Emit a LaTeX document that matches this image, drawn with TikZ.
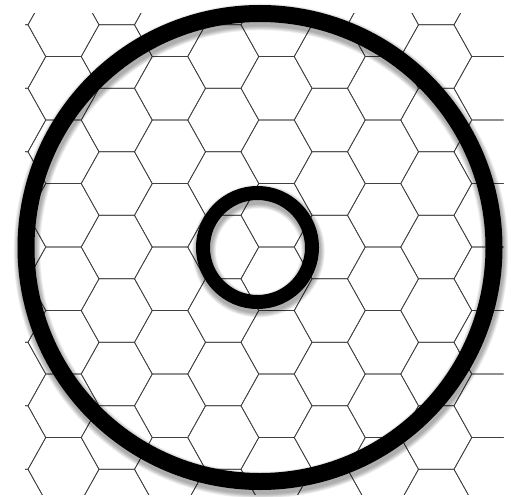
\documentclass[tikz,border=0pt]{standalone}
\begin{document}
\begin{tikzpicture}[x=1pt,y=-1pt,
  hexline/.style={draw=black!75,line width=0.7pt,line join=miter},
  ring/.style={draw=black},
  ringshadow/.style={draw=black,opacity=0.05}]
\useasboundingbox[fill=white] (0,0) rectangle (511,497);
% hexagon grid
\begin{scope}
\clip (25,14) rectangle (503.5,494.5);
\foreach \i in {-1,...,8}{
  \foreach \j in {-2,...,7}{
    \pgfmathsetmacro\cx{63.5+53.25*\i}
    \pgfmathsetmacro\cy{88.3+63.5*\j+31.75*mod(\i+10,2)}
    \draw[hexline] (\cx-35.5,\cy) -- (\cx-17.75,\cy-31.75) -- (\cx+17.75,\cy-31.75)
      -- (\cx+35.5,\cy) -- (\cx+17.75,\cy+31.75) -- (\cx-17.75,\cy+31.75) -- cycle;
  }
}
\end{scope}
% shadows
\foreach \w in {1,2,...,7}{
  \draw[ringshadow,line width={17pt+1.4pt*\w}] (261,251) circle[radius=234pt];
  \draw[ringshadow,line width={14pt+1.4pt*\w}] (258.5,251) circle[radius=54.5pt];
}
% rings
\draw[ring,line width=17pt] (260,247.5) circle[radius=234pt];
\draw[ring,line width=14pt] (257.5,247.5) circle[radius=54.5pt];
\end{tikzpicture}
\end{document}
